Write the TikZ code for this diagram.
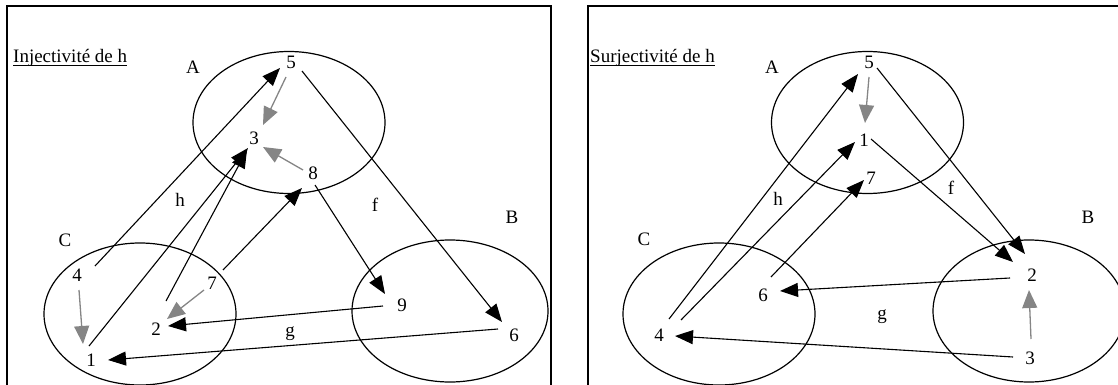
\documentclass[tikz,border=0pt]{standalone}
\usepackage{fontspec}
\setmainfont{Liberation Serif}
\usetikzlibrary{arrows.meta,calc}
\begin{document}
\begin{tikzpicture}[x=1pt,y=-1pt,
  lbl/.style={inner sep=0pt, font=\fontsize{19}{22}\selectfont},
  setshape/.style={draw, line width=1.2pt},
  frameline/.style={line width=2.6pt},
  bl/.style={line width=1.1pt, -{Triangle[length=18pt,width=14pt]}},
  gr/.style={line width=1.3pt, draw=graytone, -{Triangle[length=18pt,width=15pt,fill=graytone]}},
  uline/.style={line width=0.8pt}
]
\definecolor{graytone}{HTML}{858585}
\useasboundingbox (0,0) rectangle (1118,385);
\clip (0,0) rectangle (1118,385);

% frames
\draw[frameline] (7,400) -- (7,6) -- (551,6) -- (551,400);
\draw[frameline] (588,400) -- (588,6) -- (1130,6);

% ===== left panel =====
\node[lbl, anchor=base west] (T1) at (13,63) {Injectivité de h};
\draw[uline] ($(T1.base west)+(0,2)$) -- ($(T1.base east)+(0,2)$);

\draw[setshape] (289,122.5) ellipse [x radius=96pt, y radius=71pt];
\draw[setshape] (140,314) ellipse [x radius=96pt, y radius=71pt];
\draw[setshape] (450,311) ellipse [x radius=98pt, y radius=71pt];

\node[lbl] (LA) at (193,67) {A};
\node[lbl] (LB) at (512,217) {B};
\node[lbl] (LC) at (65,240) {C};
\node[lbl] (Lh) at (180,200) {h};
\node[lbl] (Lf) at (375,205) {f};
\node[lbl] (Lg) at (290,334) {g};

\node[lbl] (L5) at (291,62) {5};
\node[lbl] (L3) at (254,138) {3};
\node[lbl] (L8) at (313,173) {8};
\node[lbl] (L4) at (77,275) {4};
\node[lbl] (L7) at (212,283) {7};
\node[lbl] (L2) at (156,329) {2};
\node[lbl] (L1) at (91,360) {1};
\node[lbl] (L9) at (402,305) {9};
\node[lbl] (L6) at (514,335) {6};

\draw[bl] ($(L4)+(18,-9)$) -- ($(L5)+(-11,6)$);
\draw[gr] ($(L5)+(-5,15)$) -- ($(L3)+(9,-13)$);
\draw[gr] ($(L8)+(-10,-3)$) -- ($(L3)+(9,9)$);
\draw[bl] ($(L1)+(-2,-14)$) -- ($(L3)+(-6,10)$);
\draw[bl] ($(L2)+(10,-28)$) -- ($(L3)+(-7,12)$);
\draw[bl] ($(L7)+(11,-13)$) -- ($(L8)+(-11,15)$);
\draw[bl] ($(L8)+(2,12)$) -- ($(L9)+(-17,-11)$);
\draw[bl] ($(L5)+(11,9)$) -- ($(L6)+(-12,-13)$);
\draw[gr] ($(L7)+(-8,7)$) -- ($(L2)+(11,-10)$);
\draw[gr] ($(L4)+(2,15)$) -- ($(L1)+(-8,-16)$);
\draw[bl] ($(L9)+(-19,1)$) -- ($(L2)+(12,-3)$);
\draw[bl] ($(L6)+(-16,-6)$) -- ($(L1)+(17,0)$);

% ===== right panel =====
\node[lbl, anchor=base west] (T2) at (590,63) {Surjectivité de h};
\draw[uline] ($(T2.base west)+(0,2)$) -- ($(T2.base east)+(0,2)$);

\draw[setshape] (867.5,122.5) ellipse [x radius=96pt, y radius=71pt];
\draw[setshape] (719,314) ellipse [x radius=96pt, y radius=71pt];
\draw[setshape] (1029,311) ellipse [x radius=96pt, y radius=71pt];

\node[lbl] (RA) at (772,67) {A};
\node[lbl] (RB) at (1088,217) {B};
\node[lbl] (RC) at (644,239) {C};
\node[lbl] (Rh) at (778,199) {h};
\node[lbl] (Rf) at (951,188) {f};
\node[lbl] (Rg) at (882,317) {g};

\node[lbl] (R5) at (869,62) {5};
\node[lbl] (R1) at (864,140) {1};
\node[lbl] (R7) at (871,178) {7};
\node[lbl] (R2) at (1032,275) {2};
\node[lbl] (R6) at (763,295) {6};
\node[lbl] (R4) at (659,335) {4};
\node[lbl] (R3) at (1030,358) {3};

\draw[bl] ($(R4)+(10,-16)$) -- ($(R5)+(-11,12)$);
\draw[bl] ($(R4)+(22,-15)$) -- ($(R1)+(-9,2)$);
\draw[bl] ($(R6)+(8,-18)$) -- ($(R7)+(-7,2)$);
\draw[gr] ($(R5)+(0,15)$) -- ($(R1)+(1,-17)$);
\draw[bl] ($(R5)+(8,6)$) -- ($(R2)+(-7,-21)$);
\draw[bl] ($(R1)+(7,-1)$) -- ($(R2)+(-19,-13)$);
\draw[bl] ($(R2)+(-22,3)$) -- ($(R6)+(17,-4)$);
\draw[bl] ($(R3)+(-17,-1)$) -- ($(R4)+(16,1)$);
\draw[gr] ($(R3)+(1,-19)$) -- ($(R2)+(-3,15)$);
\end{tikzpicture}
\end{document}
